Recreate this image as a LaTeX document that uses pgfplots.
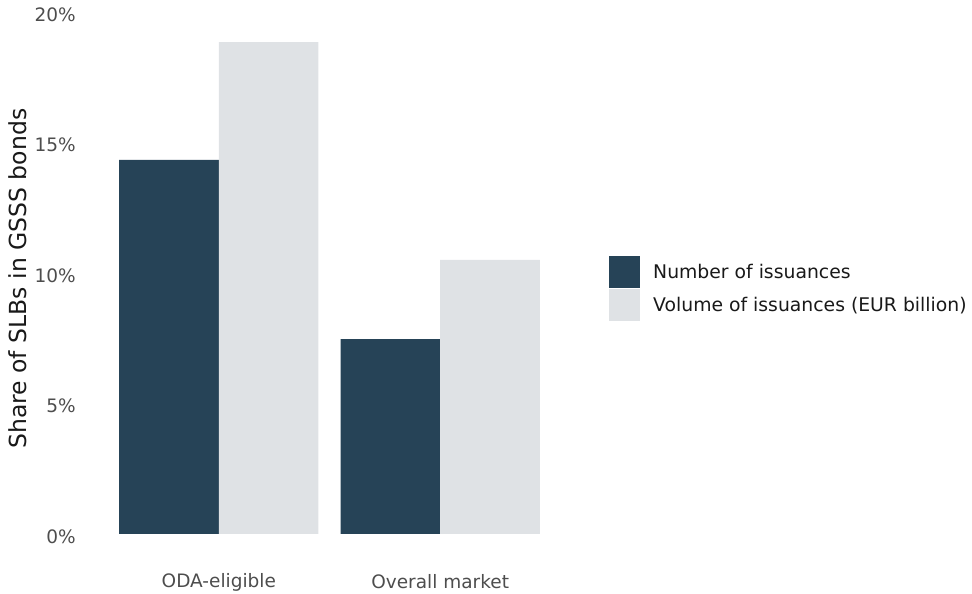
\documentclass[border=0pt]{standalone}
\usepackage{pgfplots}
\pgfplotsset{compat=1.18}
\usepackage{fontspec}
\setmainfont{DejaVu Sans}
\definecolor{darkbar}{HTML}{264357}
\definecolor{lightbar}{HTML}{DFE2E5}
\definecolor{ticktext}{HTML}{4D4D4D}
\begin{document}
\begin{tikzpicture}
\useasboundingbox (-86pt,-60pt) rectangle (886pt,534pt);
\begin{axis}[
    width=487pt, height=522pt, scale only axis,
    xmin=-0.6, xmax=1.6, ymin=0, ymax=20,
    ybar=0pt, bar width=0.45,
    xtick={0,1}, xticklabels={ODA-eligible, Overall market},
    ytick={0,5,10,15,20},
    yticklabel={\pgfmathprintnumber{\tick}\%},
    /pgf/number format/assume math mode=true,
    axis line style={draw=none}, major tick length=0pt,
    tick label style={font=\fontsize{18.5}{22}\selectfont, text=ticktext},
    yticklabel style={anchor=east, inner sep=0pt, xshift=-10pt, yshift=-2.5pt},
    xticklabel style={anchor=center, inner sep=0pt, yshift=-48pt},
    ylabel={Share of SLBs in GSSS bonds},
    ylabel style={at={(axis description cs:-0.1396,0.489)}, anchor=center,
                  font=\fontsize{23.5}{28}\selectfont, text=black!90},
    legend style={at={(axis description cs:1.0739,0.5326)}, anchor=north west,
                  draw=none, fill=none, font=\fontsize{18.8}{22}\selectfont,
                  inner sep=0pt, row sep=1pt, text=black!90,
                  /tikz/every odd column/.append style={column sep=11pt}},
    legend cell align=left,
    legend image code/.code={\fill[#1] (0pt,-16pt) rectangle (31pt,16pt);},
]
\addplot[draw=none, fill=darkbar] coordinates {(0,14.33) (1,7.47)};
\addplot[draw=none, fill=lightbar] coordinates {(0,18.85) (1,10.5)};
\legend{Number of issuances, Volume of issuances (EUR billion)}
\end{axis}
\end{tikzpicture}
\end{document}
